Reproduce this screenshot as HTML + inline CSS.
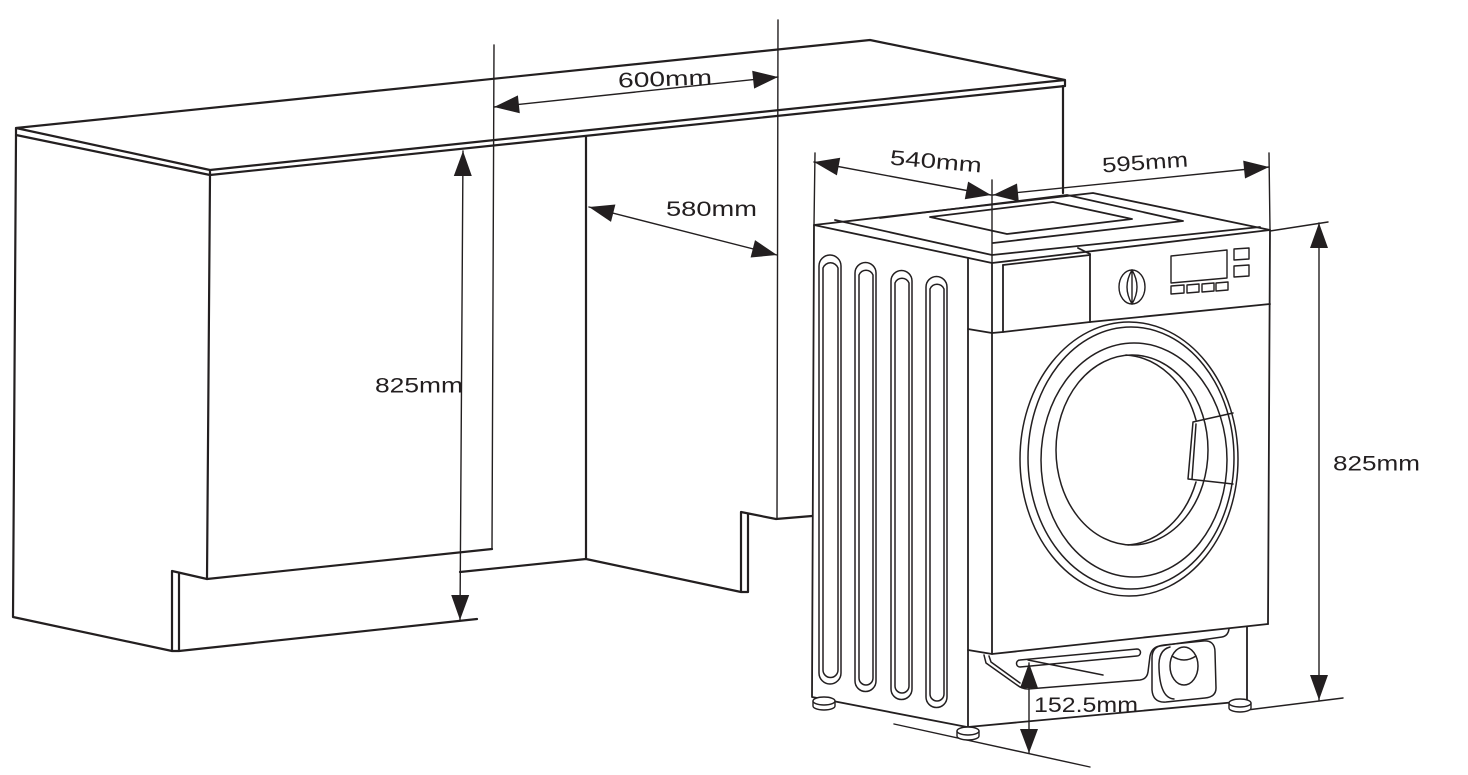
<!DOCTYPE html>
<html>
<head>
<meta charset="utf-8">
<style>
html,body{margin:0;padding:0;background:#fff;}
svg{display:block;}
text{font-family:"Liberation Sans",sans-serif;font-size:21px;fill:#231f20;}
</style>
</head>
<body>
<svg width="1468" height="775" viewBox="0 0 1468 775" xmlns="http://www.w3.org/2000/svg">
<rect width="1468" height="775" fill="#fff"/>
<g fill="none" stroke="#231f20" stroke-linejoin="round" stroke-linecap="round">

<!-- ===== Cabinet / countertop ===== -->
<g stroke-width="2.2">
  <path d="M16,128 L870,40 L1065,80 L1065,86 M16,128 L210,170 L1065,80 M16,135 L210,175 L1065,86 M16,128 L16,135 M210,170 L210,175"/>
  <path d="M16,135 L13,617 L172,651 L172,571 L207,579 M179,573 L179,651 M172,651 L179,651 L477,619"/>
  <path d="M210,175 L207,579 L492,549"/>
  <path d="M586,137 L586,559 L741,592 L748,592 L748,514 M741,592 L741,512 L776,519 L812,516 M460,572 L586,559"/>
  <path d="M1063,86 L1063,193"/>
</g>

<!-- extension lines -->
<g stroke-width="1.4">
  <path d="M494,45 L492,549"/>
  <path d="M778,20 L777,519"/>
  <path d="M815,153 L814,225"/>
  <path d="M992,180 L992,263"/>
  <path d="M1269,153 L1270,230"/>
  <path d="M1270,231 L1328,222"/>
  <path d="M1247,710 L1343,698"/>
  <path d="M894,724 L1090,767"/>
</g>

<!-- dimension lines -->
<g stroke-width="1.4">
  <path d="M494,107 L778,77"/>
  <path d="M589,207 L777,255"/>
  <path d="M463,151 L460,620"/>
  <path d="M814,162 L991,195"/>
  <path d="M993,195 L1269,167"/>
  <path d="M1319,223 L1319,700"/>
  <path d="M1029,663 L1029,753"/>
</g>

<!-- ===== Washer ===== -->
<g stroke-width="1.8">
  <!-- top -->
  <path d="M814,225 L1093,193 L1270,230 L992,263 Z"/>
  <path d="M835,220 L992,255 L1260,227"/>
  <path d="M880,218 L1067,195 L1183,221 L993,243"/>
  <path d="M930,217 L1053,202 L1132,219 L1007,234 Z"/>
  <!-- left side -->
  <path d="M814,225 L812,697 L967,727"/>
  <path d="M968,258 L968,727"/>
  <path d="M968,329 L992,333"/>
  <path d="M992,263 L992,654"/>
  <!-- drawer & control panel -->
  <path d="M1003,265 L1003,332 L1090,322 L1270,304"/>
  <path d="M1003,265 L1090,255 M1078,248 L1090,254"/>
  <path d="M1090,254 L1090,322"/>
  <path d="M992,333 L1003,332"/>
  <!-- right edge -->
  <path d="M1270,230 L1268,624"/>
  <!-- front panel bottom -->
  <path d="M968,650 L992,654 L1268,624"/>
  <!-- plinth -->
  <path d="M1247,627 L1247,703 M968,727 L1247,701"/>
</g>

<!-- vents -->
<g stroke-width="1.5">
  <path d="M819,673 L819,266 A11,11 0 0 1 841,266 L841,673 A11,11 0 0 1 819,673 Z"/>
  <path d="M823,670 L823,268 A8,8 0 0 1 838,268 L838,670 A7.5,7.5 0 0 1 823,670 Z"/>
  <path d="M855,681 L855,273 A10.5,10.5 0 0 1 876,273 L876,681 A10.5,10.5 0 0 1 855,681 Z"/>
  <path d="M859,678 L859,275 A7.5,7.5 0 0 1 873,275 L873,678 A7,7 0 0 1 859,678 Z"/>
  <path d="M891,689 L891,281 A10.5,10.5 0 0 1 912,281 L912,689 A10.5,10.5 0 0 1 891,689 Z"/>
  <path d="M895,686 L895,283 A7.5,7.5 0 0 1 909,283 L909,686 A7,7 0 0 1 895,686 Z"/>
  <path d="M926,697 L926,287 A10.5,10.5 0 0 1 947,287 L947,697 A10.5,10.5 0 0 1 926,697 Z"/>
  <path d="M930,694 L930,289 A7.5,7.5 0 0 1 944,289 L944,694 A7,7 0 0 1 930,694 Z"/>
</g>

<!-- control panel details -->
<g stroke-width="1.4">
  <ellipse cx="1132" cy="287" rx="13" ry="17"/>
  <path d="M1132,270 Q1122,287 1132,304 M1132,270 Q1142,287 1132,304 M1132,270 L1132,304"/>
  <path d="M1171,256 L1227,250 L1227,278 L1171,283 Z"/>
  <path d="M1171,286 L1184,285 L1184,293 L1171,294 Z"/>
  <path d="M1187,285 L1199,284 L1199,292 L1187,293 Z"/>
  <path d="M1202,284 L1214,283 L1214,291 L1202,292 Z"/>
  <path d="M1216,283 L1228,282 L1228,290 L1216,291 Z"/>
  <path d="M1234,249 L1249,248 L1249,259 L1234,260 Z"/>
  <path d="M1234,266 L1249,265 L1249,276 L1234,277 Z"/>
</g>

<!-- door -->
<g stroke-width="1.5">
  <ellipse cx="1129" cy="459" rx="109" ry="137"/>
  <ellipse cx="1131" cy="458" rx="103" ry="131"/>
  <ellipse cx="1134" cy="460" rx="93" ry="117"/>
  <ellipse cx="1132" cy="450" rx="76" ry="95"/>
  <path d="M1126,355 A78,95 0 0 1 1196,420 M1196,482 A78,95 0 0 1 1128,545"/>
  <path d="M1193,422 L1233,413 M1188,479 L1233,484 M1193,422 L1188,479"/>
  <path d="M1196,424 L1192,479"/>
</g>

<!-- bottom kick panel -->
<g stroke-width="1.5">
  <path d="M984,655 L986,663 L1017,685 Q1022,689 1028,689 L1140,680 Q1147,679 1148,672 L1150,656 Q1152,647 1160,646 L1222,637 Q1228,636 1229,629"/>
  <path d="M989,656 L991,662 L1020,683"/>
  <path d="M1020,667 L1137,656 A3.5,3.5 0 0 0 1137,649 L1020,660 A3.5,3.5 0 0 0 1020,667 Z"/>
  <path d="M1028,660 L1103,675"/>
  <path d="M1164,645 L1203,641 Q1215,640 1215,652 L1216,688 Q1216,697 1205,698 L1166,702 Q1153,703 1152,690 L1152,658 Q1152,646 1164,645 Z"/>
  <path d="M1170,647 Q1158,650 1159,668 Q1160,698 1174,699"/>
  <ellipse cx="1184" cy="666" rx="14" ry="19"/>
  <path d="M1172,656 Q1184,664 1196,656"/>
</g>

<!-- feet -->
<g stroke-width="1.4" fill="#fff">
  <path d="M813,701 L813,706 A11,4 0 0 0 835,706 L835,701"/>
  <ellipse cx="824" cy="701" rx="11" ry="4"/>
  <path d="M957,731 L957,736 A11,4 0 0 0 979,736 L979,731"/>
  <ellipse cx="968" cy="731" rx="11" ry="4"/>
  <path d="M1229,703 L1229,708 A11,4 0 0 0 1251,708 L1251,703"/>
  <ellipse cx="1240" cy="703" rx="11" ry="4"/>
</g>
</g>

<!-- arrowheads -->
<g fill="#231f20" stroke="none">
  <polygon points="494,107 519.8,113.3 517.9,95.4"/>
  <polygon points="778,77 754.1,88.6 752.2,70.7"/>
  <polygon points="589,207 611.0,221.9 615.4,204.5"/>
  <polygon points="777,255 750.6,257.5 755.0,240.1"/>
  <polygon points="463,151 453.8,176 471.8,176"/>
  <polygon points="460,620 451.2,595 469.2,595"/>
  <polygon points="814,162 836.9,175.4 840.2,157.7"/>
  <polygon points="991,195 964.8,199.3 968.1,181.6"/>
  <polygon points="993,195 1018.8,201.4 1017.0,183.5"/>
  <polygon points="1269,167 1245.0,178.5 1243.2,160.6"/>
  <polygon points="1319,223 1310,248 1328,248"/>
  <polygon points="1319,700 1310,675 1328,675"/>
  <polygon points="1029,663 1020,688 1038,688"/>
  <polygon points="1029,753 1020,729 1038,729"/>
</g>

<!-- labels -->
<text x="665" y="86" text-anchor="middle" textLength="94" lengthAdjust="spacingAndGlyphs" transform="rotate(-2 665 78)">600mm</text>
<text x="419" y="392.5" text-anchor="middle" textLength="88" lengthAdjust="spacingAndGlyphs">825mm</text>
<text x="711.5" y="216" text-anchor="middle" textLength="91" lengthAdjust="spacingAndGlyphs">580mm</text>
<text x="936" y="168.5" text-anchor="middle" textLength="92" lengthAdjust="spacingAndGlyphs" transform="rotate(5 936 161)">540mm</text>
<text x="1145" y="169.5" text-anchor="middle" textLength="86" lengthAdjust="spacingAndGlyphs" transform="rotate(-4 1145 162)">595mm</text>
<text x="1376.5" y="470.5" text-anchor="middle" textLength="87" lengthAdjust="spacingAndGlyphs">825mm</text>
<text x="1086" y="712" text-anchor="middle" textLength="104" lengthAdjust="spacingAndGlyphs">152.5mm</text>
</svg>
</body>
</html>
